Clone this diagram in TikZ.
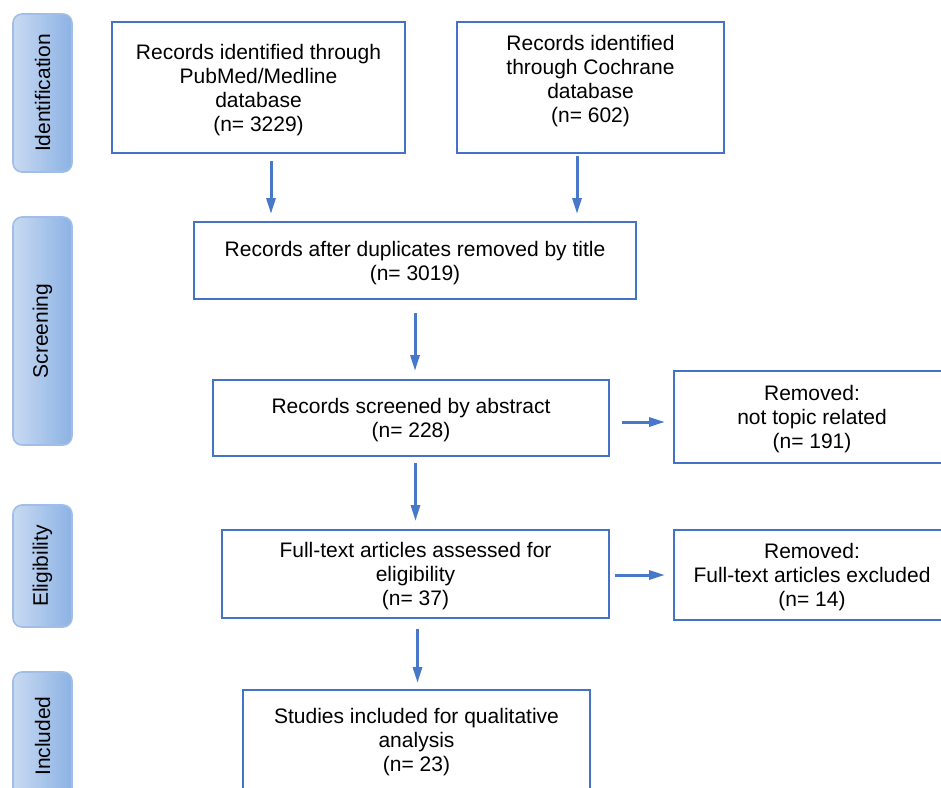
\documentclass[tikz,border=0pt]{standalone}
\usepackage{fontspec}
\setmainfont{Liberation Sans}
\usetikzlibrary{arrows,arrows.meta,positioning,calc}

\definecolor{boxblue}{RGB}{68,114,200}
\definecolor{arrblue}{RGB}{72,120,202}
\definecolor{sideedge}{RGB}{160,190,232}
\definecolor{sidelight}{RGB}{200,218,242}
\definecolor{sidedark}{RGB}{140,178,228}

\tikzset{
  box/.style={draw=boxblue, line width=1pt, align=center, inner sep=2pt,
    text depth=0pt, font=\fontsize{10.5}{12}\selectfont},
  side/.style={draw=sideedge, line width=0.8pt, rounded corners=4.5pt,
    left color=sidelight, right color=sidedark, rotate=90,
    minimum height=29.5pt, inner sep=0pt, font=\fontsize{10.5}{12}\selectfont},
  arr/.style={draw=arrblue, line width=1.5pt,
    -{Triangle[length=8pt,width=4.5pt]}}
}

\begin{document}
\begin{tikzpicture}[x=0.5pt,y=-0.5pt]
  \clip (0,0) rectangle (941,787);
  \fill[white] (0,0) rectangle (941,787);

  % stages
  \node[side, minimum width=79pt] (ident) at (42.5,93) {Identification};
  \node[side, minimum width=114pt] (screen) at (42.5,331) {Screening};
  \node[side, minimum width=61pt] (elig) at (42.5,566) {Eligibility};
  \node[side, minimum width=64pt] (incl) at (42.5,736) {Included};

  % boxes
  \node[box, minimum width=146.5pt, minimum height=65.5pt, text depth=-2pt] (pubmed) at (258.5,87.5)
    {Records identified through\\PubMed/Medline\\database\\(n= 3229)};
  \node[box, minimum width=133.5pt, minimum height=65.5pt, text depth=9pt] (cochrane) at (590.5,87.5)
    {Records identified\\through Cochrane\\database\\(n= 602)};
  \node[box, minimum width=221pt, minimum height=38.5pt] (dedup) at (415,260.5)
    {Records after duplicates removed by title\\(n= 3019)};
  \node[box, minimum width=198pt, minimum height=38pt] (abstract) at (411,418)
    {Records screened by abstract\\(n= 228)};
  \node[box, minimum width=138pt, minimum height=46pt] (removedA) at (812,417)
    {Removed:\\not topic related\\(n= 191)};
  \node[box, minimum width=193.5pt, minimum height=44pt] (fulltext) at (415.5,574)
    {Full-text articles assessed for\\eligibility\\(n= 37)};
  \node[box, minimum width=138pt, minimum height=45pt] (removedB) at (812,575)
    {Removed:\\Full-text articles excluded\\(n= 14)};
  \node[box, minimum width=173.5pt, minimum height=50pt] (included) at (416.5,740)
    {Studies included for qualitative\\analysis\\(n= 23)};

  % arrows
  \draw[arr, shorten <=3.5pt, shorten >=3.5pt] ([xshift=6.25pt]pubmed.south) -- ([xshift=6.25pt]pubmed.south |- dedup.north);
  \draw[arr, shorten <=1pt, shorten >=3.5pt] ([xshift=-6.75pt]cochrane.south) -- ([xshift=-6.75pt]cochrane.south |- dedup.north);
  \draw[arr, shorten <=6.5pt, shorten >=4pt] (dedup.south) -- (dedup.south |- abstract.north);
  \draw[arr, shorten <=6pt, shorten >=4pt] ([yshift=-2pt]abstract.east) -- ([yshift=-2pt]abstract.east -| removedA.west);
  \draw[arr, shorten <=3pt, shorten >=4pt] (abstract.south -| fulltext.north) -- (fulltext.north);
  \draw[arr, shorten <=2.5pt, shorten >=4pt] ([yshift=-0.5pt]fulltext.east) -- ([yshift=-0.5pt]fulltext.east -| removedB.west);
  \draw[arr, shorten <=5pt, shorten >=3pt] ([xshift=1pt]fulltext.south) -- ([xshift=1pt]fulltext.south |- included.north);
\end{tikzpicture}
\end{document}
